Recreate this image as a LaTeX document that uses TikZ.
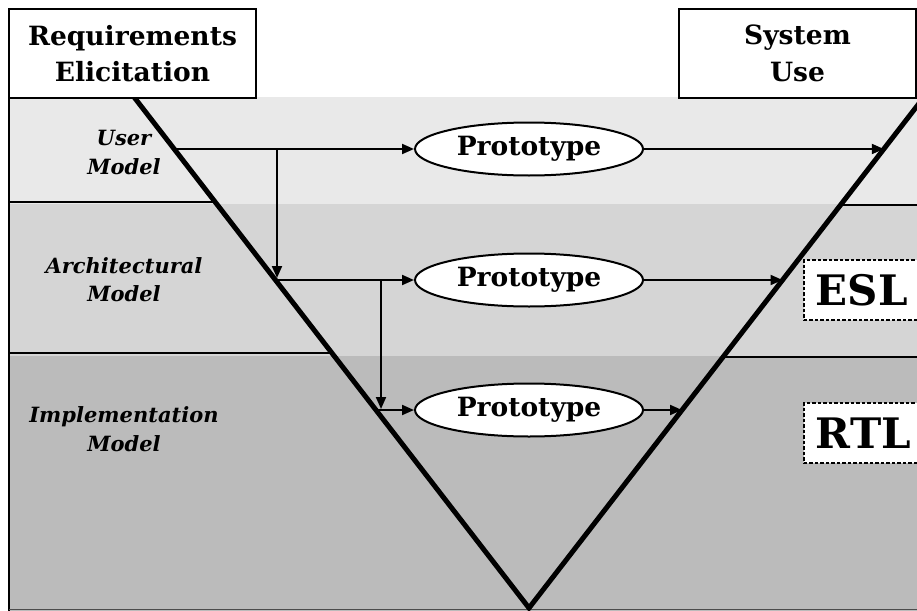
\documentclass[tikz,border=0pt]{standalone}
\usepackage{fontspec}
\setmainfont{DejaVu Serif}
\usetikzlibrary{shapes.geometric,arrows.meta}
\begin{document}
\begin{tikzpicture}[x=1pt,y=-1pt,
  rim/.style={line width=2pt},
  vline/.style={line width=5pt,line join=miter},
  flow/.style={line width=2pt,-{Triangle[length=12pt,width=10pt]}},
  phase/.style={draw,line width=2pt,fill=white,align=center,inner sep=0pt,
    minimum height=89pt,font=\bfseries\fontsize{26.5}{36.5}\selectfont},
  proto/.style={ellipse,draw,line width=2pt,fill=white,inner sep=0pt,
    minimum width=228pt,minimum height=53pt,font=\bfseries\fontsize{26.5}{30}\selectfont},
  model/.style={align=center,inner sep=0pt,font=\bfseries\itshape\fontsize{21}{28.5}\selectfont},
  level/.style={draw,dash pattern=on 3.5pt off 2pt,line width=1.6pt,fill=white,
    anchor=west,minimum height=60pt,minimum width=130pt,inner xsep=12pt,
    text width=106pt,align=left,font=\bfseries\fontsize{42}{42}\selectfont}
]
\useasboundingbox (0,0) rectangle (917,610);
\clip (0,0) rectangle (917,610);

% shaded bands
\fill[gray!17] (9,97) rectangle (930,204);
\fill[gray!33] (9,204) rectangle (930,356);
\fill[gray!53] (9,356) rectangle (930,620);

% V shape geometry
\coordinate (apex) at (529,608);
\coordinate (topL) at (134,97);
\coordinate (topR) at (924,97);

% points where the flows meet the V
\coordinate (l1) at (174.2,149);
\coordinate (l2) at (275.5,280);
\coordinate (l3) at (376,410);
\coordinate (r1) at (883.8,149);
\coordinate (r2) at (782.5,280);
\coordinate (r3) at (682,410);
\coordinate (d1) at (277,149);
\coordinate (d1e) at (277,278);
\coordinate (d2) at (381,280);
\coordinate (d2e) at (381,409);

% outlines of the model regions
\draw[rim] (9,97) -- (9,612);
\draw[rim] (9,202) -- (215.2,202);
\draw[rim] (9,353) -- (331.9,353);
\draw[rim] (840.5,205) -- (930,205);
\draw[rim] (723,357) -- (930,357);
\draw[line width=1pt,gray!60!black] (9,609.5) -- (930,609.5);

% prototypes
\node[proto] (p1) at (529,149) {Prototype};
\node[proto] (p2) at (529,280) {Prototype};
\node[proto] (p3) at (529,410) {Prototype};

% flows
\draw[flow] (l1) -- (p1.west);
\draw[flow] (p1.east) -- (r1);
\draw[flow] (d1) -- (d1e);
\draw[flow] (l2) -- (p2.west);
\draw[flow] (p2.east) -- (r2);
\draw[flow] (d2) -- (d2e);
\draw[flow] (l3) -- (p3.west);
\draw[flow] (p3.east) -- (r3);

% the V
\draw[vline] (topL) -- (apex) -- (topR);

% phase boxes
\node[phase,minimum width=247pt] (req) at (132.5,53.5) {Requirements\\Elicitation};
\node[phase,minimum width=237pt] (use) at (797.5,53.5) {System\\Use};

% model labels
\node[model] (um) at (124,152.5) {User\\Model};
\node[model] (am) at (124,279.5) {Architectural\\Model};
\node[model] (im) at (124,429) {Implementation\\Model};

% abstraction levels
\node[level] (esl) at (803,290) {ESL};
\node[level] (rtl) at (803,433) {RTL};
\end{tikzpicture}
\end{document}
